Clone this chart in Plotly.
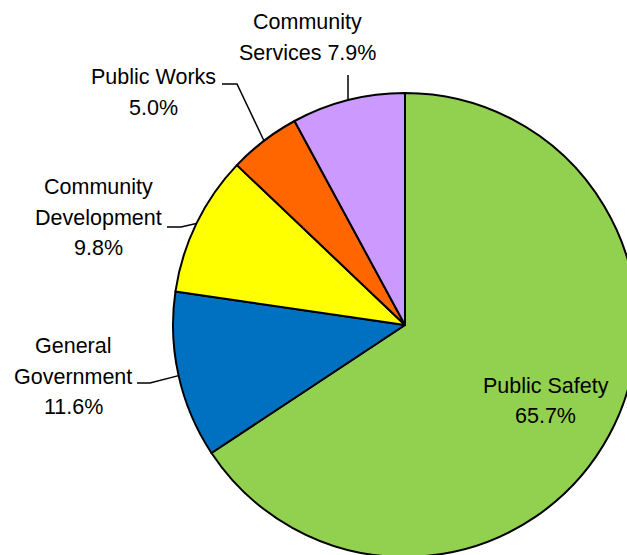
import math
import plotly.graph_objects as go

# ---- data ----
categories = ["Public Safety", "General Government", "Community Development",
              "Public Works", "Community Services"]
values = [65.7, 11.6, 9.8, 5.0, 7.9]
colors = ["#92D050", "#0070C0", "#FFFF00", "#FF6600", "#CC99FF"]
# label text lines; the percentage is appended to the last line
label_lines = [["Public Safety", ""], ["General", "Government", ""],
               ["Community", "Development", ""], ["Public Works", ""],
               ["Community", "Services "]]

# ---- layout geometry (pixels) ----
W, H = 640, 560
CX, CY, R = 405, 325, 232
FONT = "Liberation Sans, Arial, sans-serif"
FS = 21.5
LINE = 30.5

def px(x):
    return x / W

def py(y):
    return 1 - y / H

# label placement style: text centre x, first baseline y, leader elbow/end (pixel space)
label_style = {
    "Public Safety": dict(inside=0.69),
    "General Government": dict(cx=73, base=354, elbow=(150, 383), end=(137, 383)),
    "Community Development": dict(cx=98, base=195, elbow=(181, 227), end=(167, 227)),
    "Public Works": dict(cx=153, base=85, elbow=(237, 84), end=(222, 84)),
    "Community Services": dict(cx=307, base=30, elbow=None, end=("edge", 75)),
}

total = sum(values)
fig = go.Figure(go.Pie(
    labels=categories, values=values, sort=False, direction="clockwise", rotation=0,
    marker=dict(colors=colors, line=dict(color="black", width=2)),
    textinfo="none", hoverinfo="label+percent", showlegend=False,
    domain=dict(x=[px(CX - R), px(CX + R)], y=[py(CY + R), py(CY - R)]),
))

annotations = []
shapes = []
cum = 0.0
for name, val, lines in zip(categories, values, label_lines):
    mid = (cum + val / 2) / total * 2 * math.pi
    cum += val
    st = label_style[name]
    lines = list(lines)
    lines[-1] = f"{lines[-1]}{val:.1f}%"
    if "inside" in st:
        f = st["inside"]
        tx = CX + f * R * math.sin(mid)
        tmid = CY - f * R * math.cos(mid)
        base0 = tmid - (len(lines) - 1) * LINE / 2 + 0.36 * FS
    else:
        tx, base0 = st["cx"], st["base"]
        ex = CX + R * math.sin(mid)
        ey = CY - R * math.cos(mid)
        pts = [(ex, ey)]
        if st["elbow"] is not None:
            pts.append(st["elbow"])
        endx, endy = st["end"]
        if endx == "edge":
            endx = ex
        pts.append((endx, endy))
        path = "M " + " L ".join(f"{px(a):.5f},{py(b):.5f}" for a, b in pts)
        shapes.append(dict(type="path", xref="paper", yref="paper", path=path,
                           line=dict(color="black", width=1.5)))
    for i, line in enumerate(lines):
        yb = base0 + i * LINE
        annotations.append(dict(x=px(tx), y=py(yb - 0.36 * FS), xref="paper", yref="paper",
                                text=line, showarrow=False, align="center",
                                xanchor="center", yanchor="middle",
                                font=dict(family=FONT, size=FS, color="black")))

fig.update_layout(
    width=W, height=H, margin=dict(l=0, r=0, t=0, b=0),
    paper_bgcolor="white", plot_bgcolor="white",
    annotations=annotations, shapes=shapes,
)

fig.write_html("out.html", config={"displayModeBar": False},
               post_script="document.documentElement.style.overflow='hidden';"
                           "document.body.style.overflow='hidden';"
                           "document.body.style.margin='0';")
